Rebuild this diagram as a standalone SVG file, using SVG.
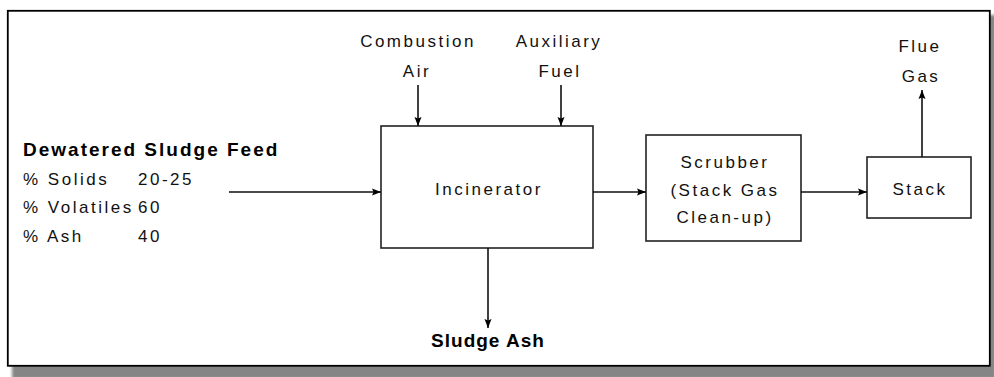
<svg xmlns="http://www.w3.org/2000/svg" width="994" height="377" viewBox="0 0 994 377">
<style>
.t{font-family:"Liberation Sans",Arial,sans-serif;font-size:17px;letter-spacing:2.5px;fill:#111}
.b{font-family:"Liberation Sans",Arial,sans-serif;font-size:19px;font-weight:bold;letter-spacing:2px;fill:#000}
.box{fill:#fff;stroke:#222;stroke-width:1.6}
.ln{fill:none;stroke:#111;stroke-width:1.6;marker-end:url(#ah)}
</style>
<defs>
<marker id="ah" markerUnits="userSpaceOnUse" markerWidth="10" markerHeight="8" refX="9" refY="4" orient="auto">
<path d="M0,0.5 L9,4 L0,7.5 L1.5,4 z" fill="#000"/>
</marker>
<filter id="sh" x="-5%" y="-5%" width="110%" height="110%"><feGaussianBlur stdDeviation="1.5"/></filter>
</defs>
<rect width="994" height="377" fill="#fff"/>
<rect x="12" y="15" width="984" height="364" fill="#858585" filter="url(#sh)"/>
<rect id="frame" x="7.8" y="10.8" width="982" height="355" fill="#fff" stroke="#000" stroke-width="1.8"/>

<g id="feed">
<text class="b" x="23" y="156">Dewatered Sludge Feed</text>
<text class="t" x="23" y="185">% Solids</text><text class="t" x="138" y="185">20-25</text>
<text class="t" x="23" y="213">% Volatiles</text><text class="t" x="138" y="213">60</text>
<text class="t" x="23" y="242">% Ash</text><text class="t" x="138" y="242">40</text>
</g>
<g id="combustion-air">
<text class="t" x="418" y="47" text-anchor="middle">Combustion</text>
<text class="t" x="417" y="77" text-anchor="middle">Air</text>
</g>
<g id="auxiliary-fuel">
<text class="t" x="559" y="47" text-anchor="middle">Auxiliary</text>
<text class="t" x="560" y="77" text-anchor="middle">Fuel</text>
</g>
<g id="incinerator">
<rect class="box" x="381" y="126" width="212" height="122"/>
<text class="t" x="489" y="195" text-anchor="middle">Incinerator</text>
</g>
<g id="scrubber">
<rect class="box" x="646" y="135" width="155" height="106"/>
<text class="t" x="725" y="168" text-anchor="middle">Scrubber</text>
<text class="t" x="725" y="196" text-anchor="middle">(Stack Gas</text>
<text class="t" x="725" y="223" text-anchor="middle">Clean-up)</text>
</g>
<g id="stack">
<rect class="box" x="867" y="157" width="104" height="61"/>
<text class="t" x="920" y="195" text-anchor="middle">Stack</text>
</g>
<g id="flue-gas">
<text class="t" x="920" y="52" text-anchor="middle">Flue</text>
<text class="t" x="921" y="82" text-anchor="middle">Gas</text>
</g>
<g id="sludge-ash">
<text class="b" x="488" y="347" text-anchor="middle" style="letter-spacing:1px">Sludge Ash</text>
</g>
<g id="connectors">
<line class="ln" x1="229" y1="192" x2="381" y2="192"/>
<line class="ln" x1="418" y1="85" x2="418" y2="126"/>
<line class="ln" x1="561" y1="85" x2="561" y2="126"/>
<line class="ln" x1="593" y1="192" x2="646" y2="192"/>
<line class="ln" x1="801" y1="192" x2="867" y2="192"/>
<line class="ln" x1="922" y1="157" x2="922" y2="90"/>
<line class="ln" x1="488" y1="248" x2="488" y2="328"/>
</g>
</svg>
